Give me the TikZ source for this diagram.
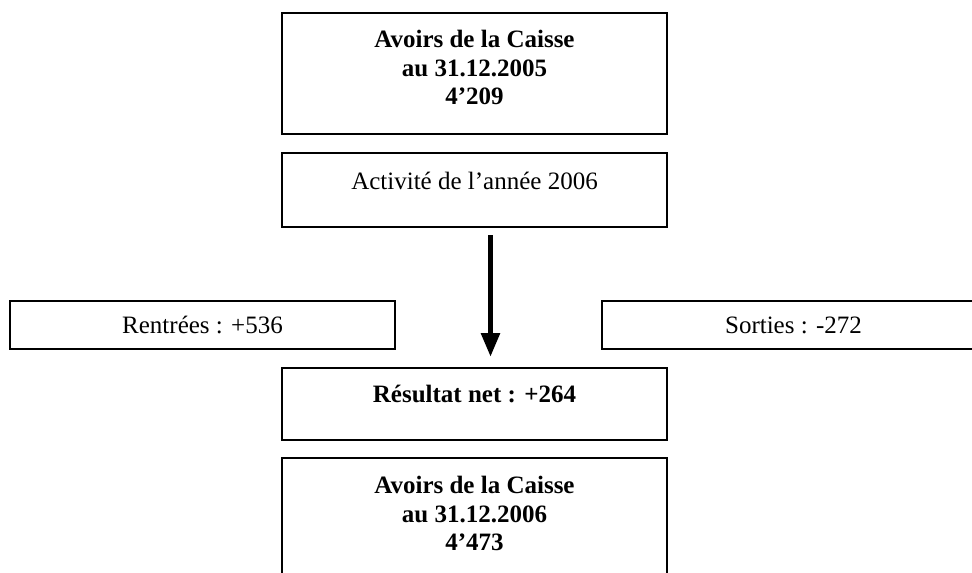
\documentclass[tikz,border=0pt]{standalone}
\usepackage{fontspec}
\setmainfont{Liberation Serif}
\usetikzlibrary{arrows.meta}
\begin{document}
\begin{tikzpicture}[x=1pt,y=-1pt,
  box/.style={draw=black,line width=1.8pt,rectangle,inner sep=0pt},
  txt/.style={inner sep=0pt,anchor=base,font=\fontsize{25}{28}\selectfont},
  btxt/.style={txt,font=\fontsize{25}{28}\selectfont\bfseries}]
\useasboundingbox (0,0) rectangle (972,573);
\begin{scope}
\clip (0,0) rectangle (972,573);
\node[box,minimum width=385pt,minimum height=121pt] (b1) at (474.5,73.5) {};
\node[box,minimum width=385pt,minimum height=74pt] (b2) at (474.5,190) {};
\node[box,minimum width=385pt,minimum height=48pt] (bl) at (202.5,325) {};
\node[box,minimum width=383pt,minimum height=48pt] (br) at (793.5,325) {};
\node[box,minimum width=385pt,minimum height=72pt] (b3) at (474.5,404) {};
\node[box,minimum width=385pt,minimum height=142pt] (b4) at (474.5,529) {};
\end{scope}
\node[btxt] (t1a) at (474.5,47.5) {Avoirs de la Caisse};
\node[btxt] (t1b) at (474.5,76) {au 31.12.2005};
\node[btxt] (t1c) at (474.5,104.5) {4’209};
\node[txt] (t2) at (474.5,189) {Activité de l’année 2006};
\node[txt] (tl) at (202.5,333) {Rentrées : +536};
\node[txt] (tr) at (793.5,333) {Sorties : -272};
\node[btxt] (t3) at (474.5,402) {Résultat net : +264};
\node[btxt] (t4a) at (474.5,493) {Avoirs de la Caisse};
\node[btxt] (t4b) at (474.5,522) {au 31.12.2006};
\node[btxt] (t4c) at (474.5,550) {4’473};
\coordinate (as) at (490.5,235);
\coordinate (ae) at (490.5,357);
\draw[line width=5.5pt,-{Triangle[width=18pt,length=24pt]}] (as) -- (ae);
\end{tikzpicture}
\end{document}
